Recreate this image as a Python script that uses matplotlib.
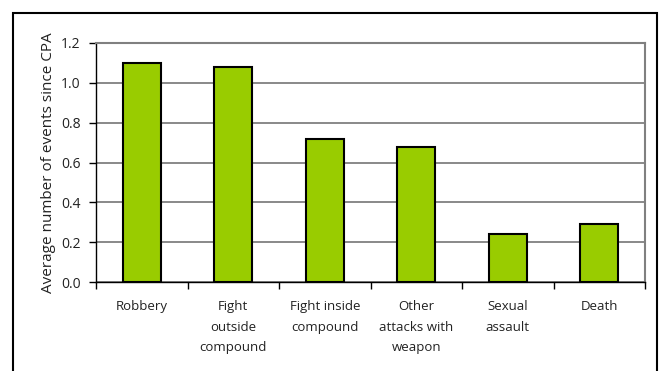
import matplotlib
matplotlib.use("Agg")
import matplotlib.pyplot as plt
from matplotlib.patches import Rectangle
import numpy as np

categories = ["Robbery", "Fight\noutside\ncompound", "Fight inside\ncompound",
              "Other\nattacks with\nweapon", "Sexual\nassault", "Death"]
values = [1.10, 1.08, 0.72, 0.68, 0.24, 0.29]
yticks = [0.0, 0.2, 0.4, 0.6, 0.8, 1.0, 1.2]
ylabel = "Average number of events since CPA"

plt.rcParams['font.family'] = ['Open Sans', 'DejaVu Sans']

fig = plt.figure(figsize=(6.63, 3.71), dpi=100)
ax = fig.add_axes([96/663, 1-282/371, (645-96)/663, (282-43)/371])

x = np.arange(len(categories))
ax.bar(x, values, width=0.42, color="#99CC00", edgecolor="black", linewidth=1.5, zorder=3)

ax.set_xlim(-0.5, len(categories) - 0.5)
ax.set_ylim(0, 1.2)
ax.set_yticks(yticks)
ax.set_yticklabels([f"{v:.1f}" for v in yticks], fontsize=10, color="#222222")
ax.yaxis.grid(True, color="#808080", linewidth=1.3, zorder=0)
ax.set_axisbelow(True)

ax.set_xticks(np.arange(len(categories) + 1) - 0.5)
ax.set_xticklabels([])
ax.set_xticks(x, minor=True)
ax.set_xticklabels(categories, minor=True, fontsize=9.5, color="#222222", linespacing=1.75, va="top")
ax.tick_params(axis="x", which="minor", length=0, pad=13)
ax.tick_params(axis="x", which="major", length=5, width=1, direction="out", color="black")
ax.tick_params(axis="y", length=5, width=1, direction="out", color="black", pad=6)

for s in ["left", "bottom"]:
    ax.spines[s].set_color("black")
    ax.spines[s].set_linewidth(1.0)
for s in ["top", "right"]:
    ax.spines[s].set_color("#808080")
    ax.spines[s].set_linewidth(1.5)

ax.set_ylabel(ylabel, fontsize=11, color="#222222", labelpad=4)

border = Rectangle((13/663, -0.2), (657-13)/663, (1-13/371) + 0.2, transform=fig.transFigure,
                   fill=False, edgecolor="black", linewidth=1.5, clip_on=False)
fig.patches.append(border)

fig.savefig("out.png", dpi=100)
